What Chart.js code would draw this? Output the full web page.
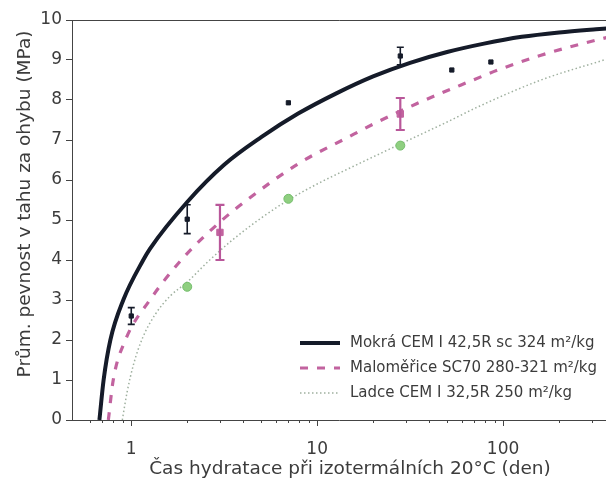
<!DOCTYPE html>
<html>
<head>
<meta charset="utf-8">
<script src="https://cdn.jsdelivr.net/npm/chart.js@4.4.1/dist/chart.umd.min.js"></script>
<style>
    body { margin: 0; background: #ffffff; overflow: hidden; }
    #wrap { width: 606px; height: 479px; overflow: hidden; }
</style>
</head>
<body>
<div id="wrap"><canvas id="myChart" width="612" height="479"></canvas></div>
<script>
// series labels
const labels = ['Mokrá CEM I 42,5R sc 324 m²/kg', 'Maloměřice SC70 280-321 m²/kg', 'Ladce CEM I 32,5R 250 m²/kg'];
const xTitle = 'Čas hydratace při izotermálních 20°C (den)';
const yTitle = 'Prům. pevnost v tahu za ohybu (MPa)';

// fitted curves (days, MPa)
const mokraT = [0.674, 0.71, 0.772, 0.906, 1.16, 1.26, 2.0, 3.16, 5.0, 7.9, 12.6, 20, 31.6, 50, 79, 126, 200, 316, 360];
const mokraFit = [0, 1.0, 2.0, 3.0, 4.0, 4.28, 5.45, 6.38, 7.07, 7.66, 8.16, 8.59, 8.93, 9.2, 9.41, 9.58, 9.69, 9.77, 9.79];
const malT = [0.753, 0.80, 0.93, 1.26, 1.9, 3.0, 4.33, 8, 14.8, 20.7, 34, 65, 94, 160, 262, 360];
const malFit = [0, 1.0, 2.0, 3.0, 4.05, 4.95, 5.55, 6.42, 7.08, 7.43, 7.9, 8.45, 8.75, 9.12, 9.4, 9.56];
const ladT = [0.895, 0.95, 1.03, 1.15, 1.35, 1.62, 2.0, 2.6, 3.5, 5, 7, 10, 15, 28, 50, 75, 160, 360];
const ladFit = [0, 0.7, 1.4, 2.05, 2.65, 3.1, 3.45, 3.97, 4.5, 5.05, 5.5, 5.9, 6.3, 6.9, 7.45, 7.85, 8.5, 9.02];

// measured means with error (+/-)
const mokraDays = [1, 2, 7, 28, 53, 86];
const mokraMean = [2.6, 5.02, 7.93, 9.1, 8.75, 8.95];
const mokraErr = [0.21, 0.36, 0, 0.22, 0, 0];
const malDays = [3, 28];
const malMean = [4.69, 7.65];
const malErr = [0.69, 0.4];
const ladDays = [2, 7, 28];
const ladMean = [3.33, 5.53, 6.86];

// axis ticks
const xTickLabels = [1, 10, 100];
const yTicks = [0, 1, 2, 3, 4, 5, 6, 7, 8, 9, 10];

const black = '#151b29';
const pink = '#c2639f';
const green = '#8fcf80';
const dotGray = '#9fb09f';
const textCol = '#3c3c3c';

function pts(xs, ys) {
    return xs.map((x, i) => ({ x: x, y: ys[i] }));
}

const data = {
    datasets: [{
        label: 'mokra-pts',
        data: pts(mokraDays, mokraMean),
        err: mokraErr,
        errColor: black,
        capW: 3.5,
        errW: 1.6,
        backgroundColor: black,
        borderColor: black,
        pointStyle: 'rect',
        pointRadius: 3,
        showLine: false
    }, {
        label: 'mal-pts',
        data: pts(malDays, malMean),
        err: malErr,
        errColor: '#b9579a',
        capW: 4.5,
        errW: 2.2,
        backgroundColor: pink,
        borderColor: pink,
        pointStyle: 'rect',
        pointRadius: 4.5,
        showLine: false
    }, {
        label: 'lad-pts',
        data: pts(ladDays, ladMean),
        backgroundColor: green,
        borderColor: '#74bd6c',
        borderWidth: 1,
        pointStyle: 'circle',
        pointRadius: 4.5,
        showLine: false
    }, {
        label: labels[0],
        data: pts(mokraT, mokraFit),
        borderColor: black,
        borderWidth: 4,
        pointRadius: 0,
        showLine: true,
        cubicInterpolationMode: 'monotone',
        legend: true
    }, {
        label: labels[1],
        data: pts(malT, malFit),
        borderColor: pink,
        borderWidth: 3.2,
        borderDash: [8, 9],
        pointRadius: 0,
        showLine: true,
        cubicInterpolationMode: 'monotone',
        legend: true
    }, {
        label: labels[2],
        data: pts(ladT, ladFit),
        borderColor: dotGray,
        borderWidth: 1.5,
        borderDash: [1.5, 2.5],
        pointRadius: 0,
        showLine: true,
        cubicInterpolationMode: 'monotone',
        legend: true
    }]
};

function isDecadeTick(v) {
    const m = v / Math.pow(10, Math.floor(Math.log10(v) + 1e-9));
    return Math.abs(m - Math.round(m)) < 1e-6;
}

const errorBars = {
    id: 'errorBars',
    afterDatasetsDraw(chart) {
        const ctx = chart.ctx;
        const xs = chart.scales.x, ys = chart.scales.y;
        chart.data.datasets.forEach(ds => {
            if (!ds.err) return;
            ctx.save();
            ctx.strokeStyle = ds.errColor;
            ctx.lineWidth = ds.errW;
            ds.data.forEach((p, i) => {
                const e = ds.err[i];
                if (!e) return;
                const px = xs.getPixelForValue(p.x);
                const y1 = ys.getPixelForValue(p.y - e);
                const y2 = ys.getPixelForValue(p.y + e);
                ctx.beginPath();
                ctx.moveTo(px, y1); ctx.lineTo(px, y2);
                ctx.moveTo(px - ds.capW, y1); ctx.lineTo(px + ds.capW, y1);
                ctx.moveTo(px - ds.capW, y2); ctx.lineTo(px + ds.capW, y2);
                ctx.stroke();
            });
            ctx.restore();
        });
    }
};

const frame = {
    id: 'frame',
    afterDraw(chart) {
        const ctx = chart.ctx;
        const a = chart.chartArea;
        const xs = chart.scales.x;
        ctx.save();
        ctx.strokeStyle = '#444';
        ctx.lineWidth = 1;
        ctx.beginPath();
        ctx.moveTo(a.left, a.top + 0.5);
        ctx.lineTo(a.right, a.top + 0.5);
        // x tick marks, long at decades
        xs.ticks.forEach(t => {
            if (!isDecadeTick(t.value)) return;
            const px = Math.round(xs.getPixelForValue(t.value)) + 0.5;
            const major = xTickLabels.includes(t.value);
            ctx.moveTo(px, a.bottom);
            ctx.lineTo(px, a.bottom + (major ? 6 : 3));
        });
        ctx.stroke();

        // axis titles
        ctx.fillStyle = textCol;
        ctx.font = '18.5px "DejaVu Sans"';
        ctx.textAlign = 'center';
        ctx.textBaseline = 'middle';
        ctx.fillText(xTitle, 350, 469);
        ctx.save();
        ctx.translate(25, 204);
        ctx.rotate(-Math.PI / 2);
        ctx.fillText(yTitle, 0, 0);
        ctx.restore();

        // legend
        ctx.font = '15px "DejaVu Sans"';
        ctx.textAlign = 'left';
        let row = 0;
        chart.data.datasets.forEach(ds => {
            if (!ds.legend) return;
            const y = 343 + row * 25;
            ctx.beginPath();
            ctx.strokeStyle = ds.borderColor;
            ctx.lineWidth = ds.borderWidth;
            ctx.setLineDash(ds.borderDash || []);
            ctx.moveTo(300, y);
            ctx.lineTo(340, y);
            ctx.stroke();
            ctx.setLineDash([]);
            ctx.fillText(ds.label, 350, y);
            row++;
        });
        ctx.restore();
    }
};

const config = {
    type: 'scatter',
    data: data,
    options: {
        responsive: false,
        animation: false,
        devicePixelRatio: 1,
        layout: { padding: { left: 0, top: 20, right: 0, bottom: 0 } },
        plugins: {
            legend: { display: false },
            tooltip: { enabled: false }
        },
        scales: {
            x: {
                type: 'logarithmic',
                min: 0.48,
                max: 360,
                afterFit: function (scale) {
                    scale.height = 59;
                    scale.paddingRight = 0;
                },
                grid: { display: false },
                border: { color: '#444', width: 1 },
                ticks: {
                    autoSkip: false,
                    maxRotation: 0,
                    padding: 11,
                    color: textCol,
                    font: { family: 'DejaVu Sans', size: 17 },
                    callback: function (v) {
                        return xTickLabels.includes(v) ? String(v) : '';
                    }
                }
            },
            y: {
                min: 0,
                max: 10,
                afterFit: function (scale) { scale.width = 72; },
                afterBuildTicks: function (scale) {
                    scale.ticks = yTicks.map(v => ({ value: v }));
                },
                grid: { drawOnChartArea: false, tickLength: 6, color: '#444' },
                border: { color: '#444', width: 1 },
                ticks: {
                    padding: 4,
                    color: textCol,
                    font: { family: 'DejaVu Sans', size: 17 }
                }
            }
        }
    },
    plugins: [errorBars, frame]
};

const myChart = new Chart(document.getElementById('myChart'), config);
</script>
</body>
</html>
